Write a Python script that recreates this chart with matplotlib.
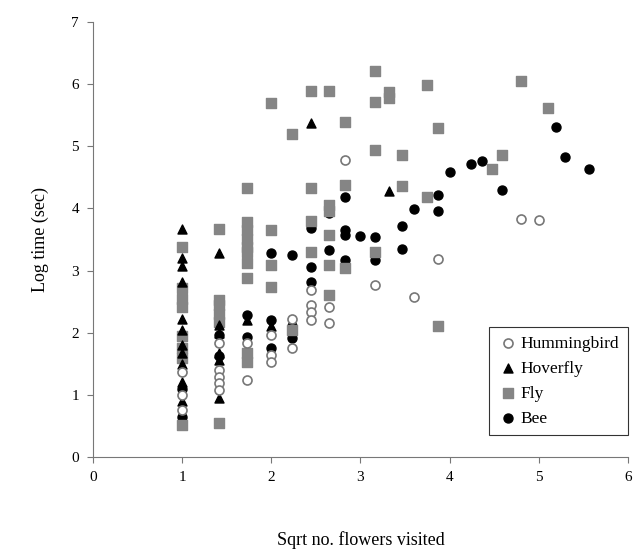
"""
Log visit time against sqrt of flowers visited, by pollinator
"""

import numpy as np
import matplotlib.pyplot as plt

plt.rcParams["font.family"] = ["Liberation Serif", "DejaVu Serif"]

# (x, y) values; x is sqrt(number of flowers)
hum_x = [1, 1, 1, 1.414, 1.414, 1.414, 1.414, 1.414, 1.732, 1.732,
         2, 2, 2, 2.236, 2.236, 2.449, 2.449, 2.449, 2.449, 2.646, 2.646,
         2.828, 3.162, 3.606, 3.873, 4.796, 5.0]
hum_y = [1.37, 1.0, 0.76, 1.83, 1.4, 1.29, 1.19, 1.08, 1.83, 1.24,
         1.96, 1.64, 1.53, 2.22, 1.75, 2.69, 2.45, 2.33, 2.2, 2.42, 2.16,
         4.78, 2.77, 2.58, 3.19, 3.83, 3.81]

hov_x = [1, 1, 1, 1, 1, 1, 1, 1, 1, 1, 1,
         1.414, 1.414, 1.414, 1.414, 1.414, 1.414, 1.732, 2, 2.449, 3.317]
hov_y = [3.67, 3.2, 3.07, 2.82, 2.22, 2.05, 1.8, 1.68, 1.5, 1.2, 0.9,
         3.28, 2.12, 2.0, 1.67, 1.56, 0.95, 2.2, 2.1, 5.37, 4.28]

fly_x = [1, 1, 1, 1, 1, 1, 1, 1,
         1.414, 1.414, 1.414, 1.414, 1.414, 1.414,
         1.732, 1.732, 1.732, 1.732, 1.732, 1.732, 1.732, 1.732, 1.732, 1.732,
         2, 2, 2, 2, 2.236, 2.236, 2.449, 2.449, 2.449, 2.449,
         2.646, 2.646, 2.646, 2.646, 2.646, 2.646, 2.828, 2.828, 2.828,
         3.162, 3.162, 3.162, 3.162, 3.317, 3.317, 3.464, 3.464,
         3.742, 3.742, 3.873, 3.873, 4.472, 4.583, 4.796, 5.099]
fly_y = [3.38, 2.72, 2.55, 2.42, 1.95, 1.75, 1.6, 0.51,
         3.67, 2.52, 2.45, 2.3, 2.17, 0.55,
         4.33, 3.78, 3.65, 3.5, 3.38, 3.3, 3.12, 2.88, 1.67, 1.53,
         5.7, 3.65, 3.09, 2.74, 5.2, 2.04, 5.89, 4.33, 3.8, 3.3,
         5.89, 4.06, 3.96, 3.57, 3.09, 2.61, 5.39, 4.38, 3.04,
         6.21, 5.72, 4.94, 3.3, 5.87, 5.77, 4.86, 4.36,
         5.99, 4.18, 5.3, 2.1, 4.63, 4.86, 6.05, 5.62]

bee_x = [1, 1, 1.414, 1.414, 1.732, 1.732, 2, 2, 2, 2.236, 2.236, 2.236,
         2.449, 2.449, 2.449, 2.646, 2.646, 2.828, 2.828, 2.828, 2.828,
         3.0, 3.162, 3.162, 3.464, 3.464, 3.606, 3.873, 3.873,
         4.0, 4.243, 4.359, 4.583, 5.196, 5.292, 5.568]
bee_y = [1.1, 0.65, 1.96, 1.62, 2.28, 1.93, 3.28, 2.2, 1.75, 3.25, 2.1, 1.92,
         3.69, 3.06, 2.82, 3.92, 3.33, 4.19, 3.65, 3.57, 3.17,
         3.56, 3.54, 3.17, 3.71, 3.34, 3.99, 4.22, 3.96,
         4.59, 4.71, 4.77, 4.3, 5.31, 4.83, 4.63]

fig = plt.figure(figsize=(6.39, 5.55), dpi=100)
ax = fig.add_axes([0.1455, 0.1766, 0.8372, 0.7838])

ms = 42
bee = ax.scatter(bee_x, bee_y, s=ms, marker="o", color="black", zorder=2)
fly = ax.scatter(fly_x, fly_y, s=ms, marker="s", color="#858585", zorder=3)
hov = ax.scatter(hov_x, hov_y, s=ms, marker="^", color="black", zorder=4)
hum = ax.scatter(hum_x, hum_y, s=ms, marker="o", facecolor="white",
                 edgecolor="#777777", linewidth=1.2, zorder=5)

ax.set_xlim(0, 6)
ax.set_ylim(0, 7)
ax.set_xticks(np.arange(0, 7))
ax.set_yticks(np.arange(0, 8))
ax.tick_params(direction="out", length=4, width=0.8, color="#777777",
               labelsize=11, pad=6)

for side in ["top", "right"]:
    ax.spines[side].set_visible(False)
for side in ["left", "bottom"]:
    ax.spines[side].set_color("#777777")

ax.set_xlabel("Sqrt no. flowers visited", fontsize=13, labelpad=34)
ax.set_ylabel("Log time (sec)", fontsize=13, labelpad=16)

leg = ax.legend([hum, hov, fly, bee], ["Hummingbird", "Hoverfly", "Fly", "Bee"],
                loc="lower right", bbox_to_anchor=(1.0, 0.05), borderaxespad=0,
                fontsize=12.5, frameon=True, fancybox=False, handletextpad=0.2,
                borderpad=0.5, labelspacing=0.5, handlelength=1.1)
leg.get_frame().set_edgecolor("black")
leg.get_frame().set_linewidth(0.8)

plt.savefig("out.png", dpi=100)
